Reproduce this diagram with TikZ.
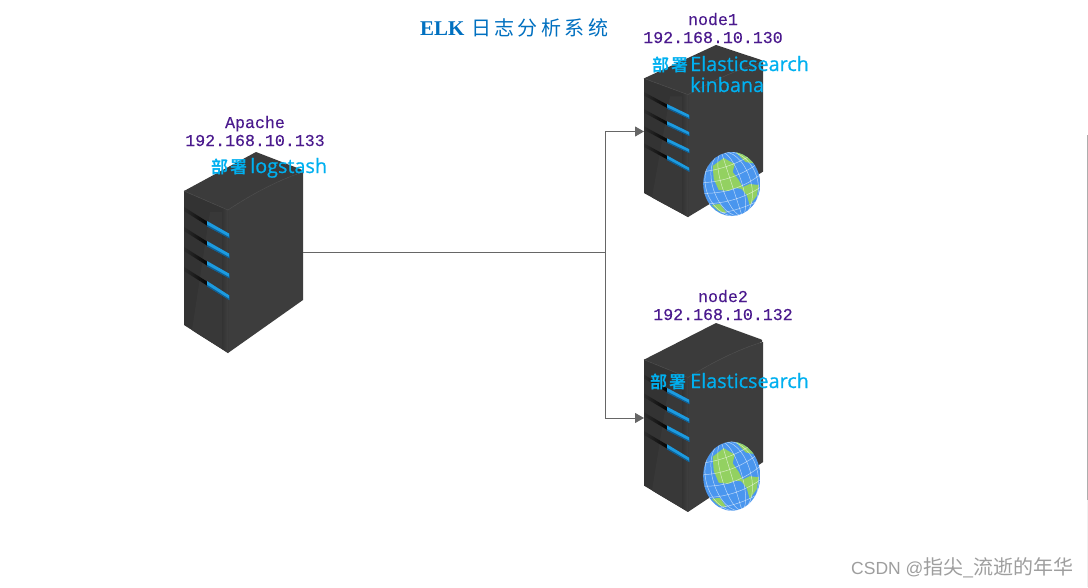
\documentclass[tikz,border=0pt]{standalone}
\usepackage{fontspec}
\setmainfont{Liberation Serif}
\newfontfamily\labelfont[FakeBold=0.25]{Liberation Mono}
\newfontfamily\latinfont[FakeBold=0.6]{Open Sans}
\newfontfamily\cjktitle[LetterSpace=17]{Noto Sans CJK SC}
\newfontfamily\cjkdeploy[LetterSpace=12]{Noto Sans CJK SC Bold}
\newfontfamily\markfont{Liberation Sans}
\newfontfamily\markcjk{Noto Sans CJK SC}
\usetikzlibrary{arrows.meta}
\definecolor{ipcolor}{HTML}{4B1A8E}
\definecolor{deploycolor}{HTML}{00B0F0}
\definecolor{titlecolor}{HTML}{0070C0}
\definecolor{linecolor}{HTML}{666666}
\definecolor{slotblue}{HTML}{1C9BE0}
\definecolor{slotdeep}{HTML}{0F5F94}
\definecolor{globeblue}{HTML}{4A96EE}
\definecolor{globegreen}{HTML}{93D161}
\tikzset{
  serverbox/.style={minimum width=119pt,inner sep=0pt,outer sep=0pt},
  iptext/.style={font=\labelfont\fontsize{16.6}{18}\selectfont,text=ipcolor,inner sep=0pt,anchor=base},
  deploytext/.style={font=\latinfont\fontsize{19.8}{22}\selectfont,text=deploycolor,inner sep=0pt,anchor=base west},
  deploycjk/.style={font=\cjkdeploy\fontsize{17}{18}\selectfont,text=deploycolor,inner sep=0pt,anchor=base west},
  conn/.style={draw=linecolor,line width=0.9pt},
  connarrow/.style={conn,-{Triangle[length=9pt,width=10pt,fill=linecolor]}}
}
% body of a server, in coordinates relative to its top point
\newcommand{\serverbody}[3]{%
  \begin{scope}[shift={(#1,#2)},yscale=#3]
    % top face
    \fill[fill=black!77] (0,39) -- (72,0) -- (116,17) .. controls (119,18) and (119,20) .. (116,21) .. controls (90,30) and (65,44) .. (44,58) -- cycle;
    % right face
    \fill[fill=black!76] (44,58) .. controls (65,44) and (90,30) .. (116,21) -- (119,20) -- (119,148) -- (44,201) -- cycle;
    % left face
    \fill[black!80] (0,39) -- (44,58) -- (44,201) -- (0,173) -- cycle;
    \fill[black!78] (8,178) -- (26,60) -- (38,60) -- (38,197) -- (14,182) -- cycle;
    \shade[left color=black!80,right color=black!75] (38,56) -- (44,58) -- (44,201) -- (38,197) -- cycle;
    \draw[black!72,line width=0.7pt] (0,39) -- (44,58) .. controls (65,44) and (90,30) .. (116,21);
    % slots
    \foreach \sy in {0,20,40,60}{
      \pgfmathsetmacro{\ey}{\sy==60 ? 1.7 : 0}
      \shade[left color=black!82,right color=black!98] (0,{55+\sy}) -- (23,{69.5+\sy}) -- (23,{73.5+\sy}) -- (0,{59+\sy}) -- cycle;
      \fill[slotblue] (23,{69+\sy}) -- (45,{81.5+\sy+\ey}) -- (45,{86+\sy+\ey}) -- (23,{74+\sy}) -- cycle;
      \fill[slotdeep] (23,{72.8+\sy}) -- (45,{85+\sy+\ey}) -- (45.5,{81.5+\sy+\ey}) -- (45.5,{86.5+\sy+\ey}) -- (23,{74.5+\sy}) -- cycle;
    }
  \end{scope}}
\newcommand{\globebody}[4]{%
  \begin{scope}[shift={(#1,#2)},yscale=#4/32]
    \begin{scope}
      \clip (0,0) ellipse [x radius=28.5,y radius=32];
      \fill[globeblue] (-29,-33) rectangle (29,33);
      \fill[globegreen] (-19,-18) -- (-8,-26) -- (3,-20) -- (1,-12) -- (7,-4) -- (12,5) -- (3,4) -- (-3,7) -- (-13,6) -- (-18,-5) -- cycle;
      \fill[globegreen] (3,-33) -- (15,-31) -- (26,-20) -- (14,-22) -- cycle;
      \fill[globegreen] (9,4) -- (18,0) -- (27,1) -- (25,12) -- (18,21) -- (15,11) -- cycle;
      \fill[globegreen] (-20,21) -- (-12,20) -- (-5,29) -- (-13,27) -- cycle;
      \begin{scope}[rotate=18]
        \foreach \rx in {0,10,19,26}{
          \draw[white,opacity=.6,line width=0.5pt] (0,0) ellipse [x radius=\rx+0.01,y radius=33];
        }
        \foreach \py/\pb in {-22/5,-11/6,0/7,11/6,22/5}{
          \draw[white,opacity=.6,line width=0.5pt] (-30,\py) .. controls (-10,\py+\pb) and (10,\py+\pb) .. (30,\py);
        }
      \end{scope}
    \end{scope}
  \end{scope}}
\begin{document}
\begin{tikzpicture}[x=1pt,y=-1pt]
  \useasboundingbox (0,0) rectangle (1088,587);
  \fill[white] (0,0) rectangle (1088,587);
  \draw[black!32,line width=1pt] (1087.5,135) -- (1087.5,500);
  \draw[black!6,line width=1pt] (1087.5,500) -- (1087.5,587);

  % server bodies
  \serverbody{184}{152}{1}
  \serverbody{644}{45}{0.856}
  \serverbody{644}{323}{0.94}
  \globebody{731.7}{184}{28.5}{32}
  \globebody{731.7}{476.2}{28.5}{34.5}

  % server anchors
  \node[serverbox,minimum height=201pt] (apache) at (243.5,252.5) {};
  \node[serverbox,minimum height=172pt] (node1) at (703.5,131.5) {};
  \node[serverbox,minimum height=189pt] (node2) at (703.5,418) {};
  \coordinate (junction) at (605,252.5);

  % connectors
  \draw[conn] (apache.east) -- (junction);
  \draw[connarrow] (junction) |- (node1.west);
  \draw[connarrow] (junction) |- (node2.west);

  % labels
  \node[font=\fontsize{21}{24}\bfseries\selectfont,text=titlecolor,inner sep=0pt,anchor=base west] (titleA) at (420,35) {ELK};
  \node[font=\cjktitle\fontsize{20}{22}\selectfont,text=titlecolor,inner sep=0pt,anchor=base west] (titleB) at (471,35) {日志分析系统};

  \node[iptext] (apname) at (255,128) {Apache};
  \node[iptext] (apip) at (255,146) {192.168.10.133};
  \node[deploycjk] (apdep) at (211,173) {部署};
  \node[deploytext] (aptool) at (250,173) {logstash};

  \node[iptext] (n1name) at (713,25) {node1};
  \node[iptext] (n1ip) at (713,43) {192.168.10.130};
  \node[deploycjk] (n1dep) at (652,71) {部署};
  \node[deploytext] (n1tool) at (690,71) {Elasticsearch};
  \node[deploytext] (n1toolb) at (690,92) {kinbana};

  \node[iptext] (n2name) at (723,302) {node2};
  \node[iptext] (n2ip) at (723,320) {192.168.10.132};
  \node[deploycjk] (n2dep) at (650,388) {部署};
  \node[deploytext] (n2tool) at (690,388) {Elasticsearch};

  \node[text=black!38,inner sep=0pt,anchor=base west,font=\markfont\fontsize{17.5}{20}\selectfont] (mark) at (851,574.5) {CSDN @{\markcjk\fontsize{20}{20}\selectfont 指尖}\_{\markcjk\fontsize{20}{20}\selectfont 流逝的年华}};
\end{tikzpicture}
\end{document}
